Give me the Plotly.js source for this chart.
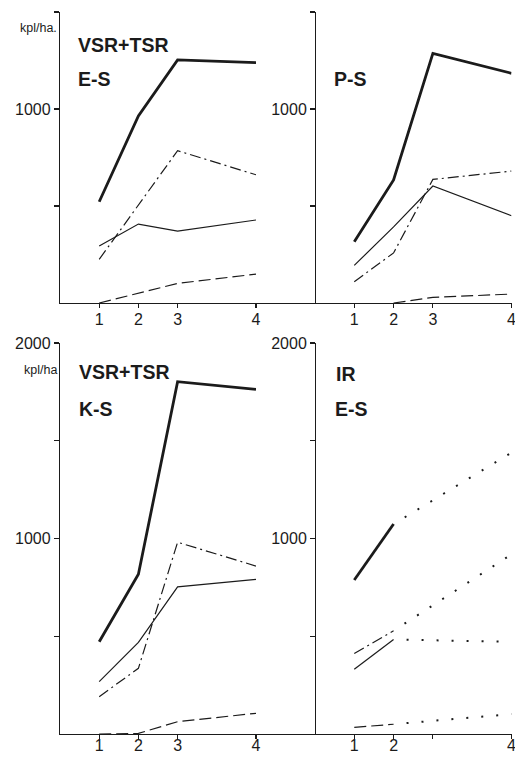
<!DOCTYPE html>
<html><head><meta charset="utf-8">
<script src="https://cdn.plot.ly/plotly-3.0.1.min.js"></script>
<style>html,body{margin:0;padding:0;background:#fff}#chart{width:515px;height:757px}</style>
</head><body><div id="chart"></div>
<script>
// axis position of each period (period 4 lies two units after period 3)
const periods = [1, 2, 3, 5];
const periodLabels = ['1', '2', '3', '4'];
const periodLabelsIR = ['1', '2', '', '4'];

// VSR+TSR, E-S (kpl/ha)
const esTotal   = [522, 964, 1253, 1239];
const esDashDot = [225, 503, 785, 661];
const esThin    = [294, 407, 371, 428];
const esDashed  = [0, 50, 101, 149];
// P-S
const psTotal   = [316, 634, 1287, 1184];
const psDashDot = [110, 258, 637, 680];
const psThin    = [194, 392, 603, 450];
const psDashed  = [null, 0, 29, 46];
// VSR+TSR, K-S
const ksTotal   = [472, 817, 1802, 1763];
const ksDashDot = [191, 336, 981, 859];
const ksThin    = [268, 469, 753, 791];
const ksDashed  = [0, 3, 63, 106];
// IR, E-S measured (periods 1-2)
const irTotal   = [788, 1074, null, null];
const irDashDot = [412, 528, null, null];
const irThin    = [331, 483, null, null];
const irDashed  = [34, 50, null, null];
// IR, E-S projected (periods 2-4, dotted)
const irTotalProj   = [null, 1074, null, 1439];
const irDashDotProj = [null, 528, null, 919];
const irThinProj    = [null, 483, null, 472];
const irDashedProj  = [null, 50, null, 102];

const INK = '#1b1b1b';
const FONT = 'Liberation Sans, Arial, Helvetica, sans-serif';
const W = 515, H = 757;
const px = v => v / W, py = v => 1 - v / H;

const styles = {
  total:   {width: 2.8, dash: 'solid'},
  thin:    {width: 1.2, dash: 'solid'},
  dashdot: {width: 1.2, dash: '11px,4px,2px,4px'},
  dashed:  {width: 1.2, dash: '12px,5px'},
  dotted:  {width: 2,   dash: '0px,13px,2px,0px'}
};
function tr(y, style, xa, ya) {
  return {x: periods, y: y, xaxis: xa, yaxis: ya, type: 'scatter', mode: 'lines',
    connectgaps: true, cliponaxis: false, hoverinfo: 'skip', showlegend: false,
    line: {color: INK, width: styles[style].width, dash: styles[style].dash}};
}

const data = [
  tr(esTotal, 'total', 'x', 'y'), tr(esDashDot, 'dashdot', 'x', 'y'),
  tr(esThin, 'thin', 'x', 'y'), tr(esDashed, 'dashed', 'x', 'y'),
  tr(psTotal, 'total', 'x2', 'y2'), tr(psDashDot, 'dashdot', 'x2', 'y2'),
  tr(psThin, 'thin', 'x2', 'y2'), tr(psDashed, 'dashed', 'x2', 'y2'),
  tr(ksTotal, 'total', 'x3', 'y3'), tr(ksDashDot, 'dashdot', 'x3', 'y3'),
  tr(ksThin, 'thin', 'x3', 'y3'), tr(ksDashed, 'dashed', 'x3', 'y3'),
  tr(irTotal, 'total', 'x4', 'y4'), tr(irDashDot, 'dashdot', 'x4', 'y4'),
  tr(irThin, 'thin', 'x4', 'y4'), tr(irDashed, 'dashed', 'x4', 'y4'),
  tr(irTotalProj, 'dotted', 'x4', 'y4'), tr(irDashDotProj, 'dotted', 'x4', 'y4'),
  tr(irThinProj, 'dotted', 'x4', 'y4'), tr(irDashedProj, 'dotted', 'x4', 'y4')
];

const tickFont = {family: FONT, size: 16, color: INK};
function xAx(dom, range, anchor, labels, standoff) {
  return {domain: dom, range: range, anchor: anchor, showgrid: false, zeroline: false,
    showline: true, linecolor: INK, linewidth: 1.2, ticks: 'outside', ticklen: 4,
    tickwidth: 1.2, tickcolor: INK, tickmode: 'array', tickvals: periods, ticktext: labels,
    tickfont: tickFont, fixedrange: true, ticklabeloverflow: 'allow',
    ticklabelstandoff: standoff};
}
function yAx(dom, range, vals, text, extra) {
  return Object.assign({domain: dom, range: range, showgrid: false, zeroline: false,
    showline: true, linecolor: INK, linewidth: 1.2, ticks: 'outside', ticklen: 5,
    tickwidth: 1.2, tickcolor: INK, tickmode: 'array', tickvals: vals, ticktext: text,
    tickfont: tickFont, fixedrange: true, ticklabeloverflow: 'allow'}, extra);
}
const topDom = [py(303), py(12)], botDom = [py(734), py(343)];
const topVals = [500, 1000, 1500], topText = ['', '1000', ''];
const botVals = [500, 1000, 1500, 2000], botText = ['', '1000', '', '2000'];

function ann(text, x, y, size, xanchor, bold) {
  return {text: bold ? '<b>' + text + '</b>' : text, xref: 'paper', yref: 'paper',
    x: px(x), y: py(y), xanchor: xanchor, yanchor: 'middle', showarrow: false,
    borderpad: 0, font: {family: FONT, size: size, color: INK}};
}

const layout = {
  width: W, height: H, margin: {l: 0, r: 0, t: 0, b: 0},
  paper_bgcolor: '#fff', plot_bgcolor: 'rgba(0,0,0,0)', showlegend: false,
  xaxis:  xAx([px(60), px(256)], [0, 5], 'y', periodLabels, -2),
  yaxis:  yAx(topDom, [0, 1500], topVals, topText, {anchor: 'x'}),
  xaxis2: xAx([px(256), px(511.5)], [-1.5, 5], 'y2', periodLabels, -2),
  yaxis2: yAx(topDom, [0, 1500], topVals, topText, {anchor: 'free', position: px(315)}),
  xaxis3: xAx([px(60), px(256)], [0, 5], 'y3', periodLabels, -7),
  yaxis3: yAx(botDom, [0, 2000], botVals, botText, {anchor: 'x3'}),
  xaxis4: xAx([px(256), px(511.5)], [-1.5, 5], 'y4', periodLabelsIR, -7),
  yaxis4: yAx(botDom, [0, 2000], botVals, botText, {anchor: 'free', position: px(315)}),
  annotations: [
    ann('kpl/ha.', 58, 28, 12.5, 'right', false),
    ann('VSR+TSR', 77, 44.5, 19.5, 'left', true),
    ann('E-S', 77, 78.5, 19.5, 'left', true),
    ann('P-S', 333, 78.5, 19.5, 'left', true),
    ann('kpl/ha', 58, 370, 12.5, 'right', false),
    ann('VSR+TSR', 78, 372.5, 19.5, 'left', true),
    ann('K-S', 78, 408.5, 19.5, 'left', true),
    ann('IR', 335, 373.5, 19.5, 'left', true),
    ann('E-S', 334, 408.5, 19.5, 'left', true)
  ]
};

Plotly.newPlot('chart', data, layout, {staticPlot: true, displayModeBar: false});
</script>
</body></html>
